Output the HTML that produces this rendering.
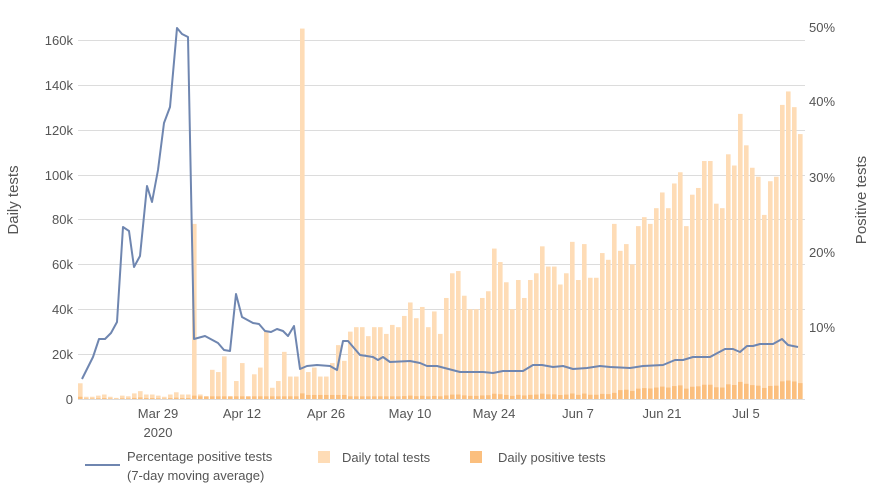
<!DOCTYPE html>
<html><head><meta charset="utf-8"><style>
body{margin:0;background:#fff;width:880px;height:495px;overflow:hidden}
svg{font-family:"Liberation Sans",sans-serif}
</style></head><body>
<svg id="s" width="880" height="495" xmlns="http://www.w3.org/2000/svg">
<g stroke="#dcdcdc" stroke-width="1">
<line x1="78" x2="805" y1="399.5" y2="399.5"/><line x1="78" x2="805" y1="354.5" y2="354.5"/>
<line x1="78" x2="805" y1="309.5" y2="309.5"/><line x1="78" x2="805" y1="264.5" y2="264.5"/>
<line x1="78" x2="805" y1="219.5" y2="219.5"/><line x1="78" x2="805" y1="175.5" y2="175.5"/>
<line x1="78" x2="805" y1="130.5" y2="130.5"/><line x1="78" x2="805" y1="85.5" y2="85.5"/>
<line x1="78" x2="805" y1="40.5" y2="40.5"/>
</g>
<g id="bars"></g>
<polyline fill="none" stroke="#6f86b0" stroke-width="2" stroke-linejoin="round" points="82,379 93,357 99,339 105,339 111,333 117,322 123,227 129,231 134,267 140,256 147,186 152,202 158,170 164,123 170,107 177,28 182,34 188,37 194,339 205,336 218,343 224,350 230,351 236,294 242,317 253,323 259,324 265,331 271,332 277,329 283,331 288,336 294,326 300,369 307,366 317,365 330,366 337,370 343,341 348,341 360,355 373,357 378,360 383,357 390,362 410,361 420,363 427,366 437,366 460,372 483,372 493,373 503,371 523,371 533,365 542,365 553,367 563,366 573,369 587,368 600,366 610,367 630,368 643,366 663,365 675,360 683,360 693,357 710,357 725,349 733,349 740,352 747,346 753,346 760,344 773,344 782,339 788,345 798,347"/>
<g font-size="13" fill="#555" text-anchor="end">
<text x="73" y="404">0</text><text x="73" y="359">20k</text><text x="73" y="314">40k</text>
<text x="73" y="269">60k</text><text x="73" y="224">80k</text><text x="73" y="180">100k</text>
<text x="73" y="135">120k</text><text x="73" y="90">140k</text><text x="73" y="45">160k</text>
</g>
<g font-size="13" fill="#555">
<text x="809" y="332">10%</text><text x="809" y="257">20%</text><text x="809" y="182">30%</text>
<text x="809" y="106">40%</text><text x="809" y="32">50%</text>
</g>
<g font-size="13" fill="#555" text-anchor="middle">
<text x="158" y="418">Mar 29</text><text x="158" y="437">2020</text>
<text x="242" y="418">Apr 12</text><text x="326" y="418">Apr 26</text>
<text x="410" y="418">May 10</text><text x="494" y="418">May 24</text>
<text x="578" y="418">Jun 7</text><text x="662" y="418">Jun 21</text>
<text x="746" y="418">Jul 5</text>
<text transform="translate(18,200) rotate(-90)" font-size="15">Daily tests</text>
<text transform="translate(866,200) rotate(-90)" font-size="15">Positive tests</text>
</g>
<line x1="85" x2="120" y1="465" y2="465" stroke="#6f86b0" stroke-width="2"/>
<g font-size="13" fill="#555">
<text x="127" y="461">Percentage positive tests</text>
<text x="127" y="480">(7-day moving average)</text>
<rect x="318" y="451" width="12" height="12" fill="#fedcb6"/>
<text x="342" y="462">Daily total tests</text>
<rect x="470" y="451" width="12" height="12" fill="#fbbf7e"/>
<text x="498" y="462">Daily positive tests</text>
</g>
</svg>
<script>
var t=[7,1,1,1.5,2,1,0.5,1.5,1.2,2.5,3.5,2,2,1.5,1,2,3,2,2,78,2,1,13,12,19,1,8,16,0.5,11,14,30,5,8,21,10,10,165,12,14,10,10,16,24,17,30,32,
32,28,32,32,29,33,32,37,43,36,41,32,39,29,45,56,57,46,40,40,45,48,67,61,52,40,53,45,53,56,68,59,59,51,56,70,53,69,54,54,
65,62,78,66,69,60,77,81,78,85,92,85,96,101,77,91,94,106,106,87,85,109,104,127,113,103,99,82,97,99,131,137,130,118];
var g=document.getElementById('bars'),h='';var sc=44.9/20;
for(var i=0;i<t.length;i++){var x=78+6*i,v=t[i],hh=v*sc;
var p=i<20?Math.min(v*0.2,1):(i<90?Math.max(1.2,v*0.035):v*0.06);if(i>37&&i<45)p=1.8;if(i==37)p=2.5;if(i==19)p=1.5;
h+='<rect x="'+x+'" y="'+(399-hh)+'" width="4.6" height="'+hh+'" fill="#fedcb6"/>';
h+='<rect x="'+x+'" y="'+(399-p*sc)+'" width="4.6" height="'+(p*sc)+'" fill="#fbbf7e"/>';}
g.innerHTML=h;
</script>
</body></html>
